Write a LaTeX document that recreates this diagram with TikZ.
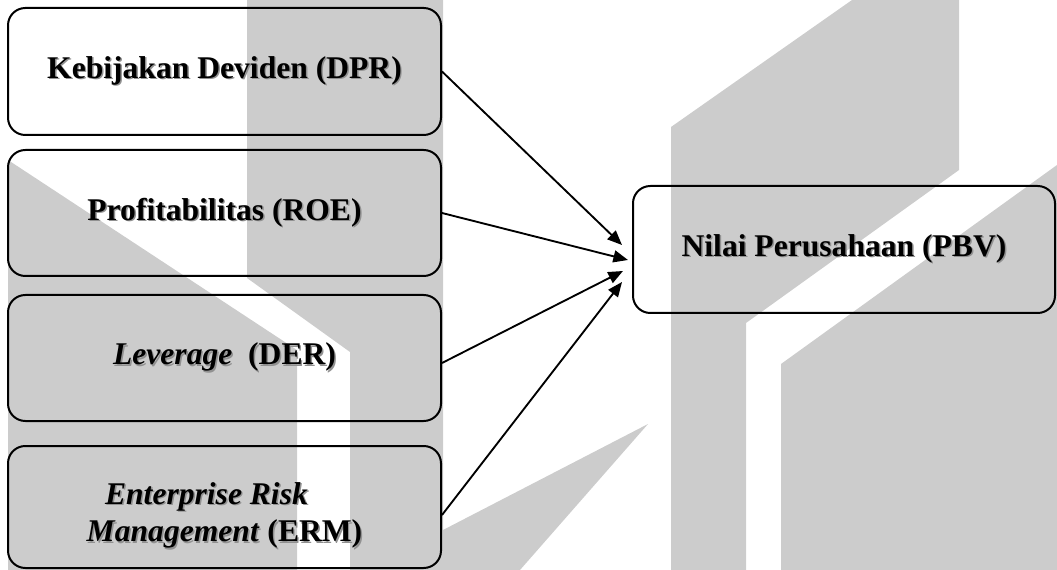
\documentclass[tikz,border=0pt]{standalone}
\usepackage{fontspec}
\setmainfont{Liberation Serif}
\usetikzlibrary{arrows.meta,calc}
\definecolor{wm}{RGB}{204,204,204}
\definecolor{shad}{RGB}{145,145,145}
\newcommand{\shd}[1]{\makebox[0pt][l]{\hspace{1.1pt}\raisebox{-1.1pt}{\color{shad}#1}}#1}
\begin{document}
\begin{tikzpicture}[x=0.75pt,y=-0.75pt,
  varbox/.style={draw=black,line width=1.5pt,rounded corners=13pt,inner sep=0pt,
    minimum width=324.75pt,align=center,
    font=\fontsize{23.7}{26.5}\selectfont\bfseries},
  conn/.style={line width=1.4pt,-{Triangle[length=11pt,width=9pt]}}]
\useasboundingbox (0,0) rectangle (1057,570);
% watermark
\fill[wm] (8,160) -- (297,350) -- (297,570) -- (8,570) -- cycle;
\fill[wm] (247,0) -- (443,0) -- (443,570) -- (350,570) -- (350,352) -- (247,278) -- cycle;
\fill[wm] (443,530) -- (648,424) -- (520,570) -- (443,570) -- cycle;
\fill[wm] (671,127) -- (852,0) -- (959,0) -- (959,170) -- (746,323) -- (746,570) -- (671,570) -- cycle;
\fill[wm] (781,364) -- (1057,165) -- (1057,570) -- (781,570) -- cycle;
% boxes
\node[varbox,minimum height=95.25pt] (b1) at (224.5,71.5) {\shd{Kebijakan Deviden (DPR)}};
\node[varbox,minimum height=94.5pt] (b2) at (224.5,213) {\shd{Profitabilitas (ROE)}};
\node[varbox,minimum height=94.5pt] (b3) at (224.5,358) {\shd{\textit{Leverage}\ \ (DER)}};
\node[varbox,minimum height=91.5pt] (b4) at (224.5,507) {\rule{0pt}{30pt}\shd{\textit{Enterprise Risk}}\hspace*{27pt}\\[1.5pt]\shd{\textit{Management} (ERM)}};
\node[varbox,minimum width=316.5pt,minimum height=95.25pt] (pbv) at (844,249.5) {\shd{Nilai Perusahaan (PBV)}};
% connectors
\draw[conn] (b1.east) -- ($(pbv.west)+(-10,-4.5)$);
\draw[conn] (b2.east) -- ($(pbv.west)+(-4,10.5)$);
\draw[conn] ($(b3.east)+(0,5)$) -- ($(pbv.west)+(-9,21.5)$);
\draw[conn] ($(b4.east)+(0,8)$) -- ($(pbv.west)+(-10,32.5)$);
\end{tikzpicture}
\end{document}
